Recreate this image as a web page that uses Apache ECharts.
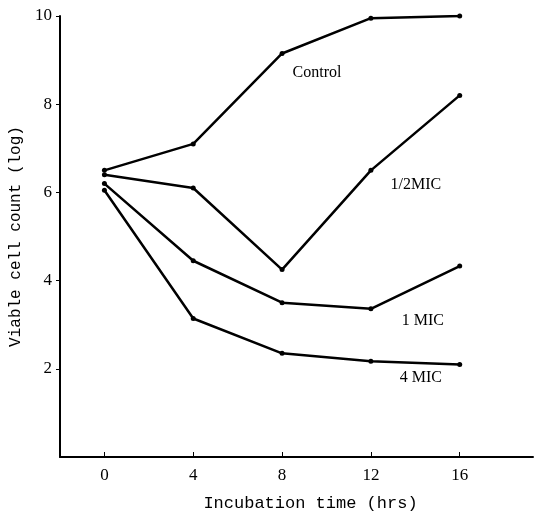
<!DOCTYPE html>
<html>
<head>
<meta charset="utf-8">
<script src="https://cdn.jsdelivr.net/npm/echarts@6/dist/echarts.min.js"></script>
<style>
  html, body { margin: 0; padding: 0; background: #fff; }
  #chart { width: 542px; height: 517px; }
</style>
</head>
<body>
<div id="chart"></div>
<script>
const hours = [0, 4, 8, 12, 16]
const xTicks = [0, 4, 8, 12, 16]
const yTicks = [2, 4, 6, 8, 10]

const control = [6.5, 7.1, 9.15, 9.95, 10.0]
const halfMic = [6.4, 6.1, 4.25, 6.5, 8.2]
const oneMic = [6.2, 4.45, 3.5, 3.36, 4.33]
const fourMic = [6.05, 3.14, 2.35, 2.17, 2.1]

const names = ['Control', '1/2MIC', '1 MIC', '4 MIC']
const labelAt = [2, 3, 3, 3] // index of point that carries the curve label
const labelOffset = [[35, 19], [45, 14], [52, 12], [50, 16]]

const serif = 'Liberation Serif'
const mono = 'Liberation Mono'

const makeSeries = (vals, k) => ({
  type: 'line',
  name: names[k],
  symbol: 'circle',
  symbolSize: 5,
  lineStyle: { color: '#000', width: 2.5 },
  itemStyle: { color: '#000' },
  data: vals.map((v, i) => {
    if (i !== labelAt[k]) return [hours[i], v]
    return {
      value: [hours[i], v],
      label: {
        show: true,
        position: 'inside',
        formatter: names[k],
        offset: labelOffset[k],
        color: '#000',
        fontFamily: serif,
        fontSize: 16
      }
    }
  })
})

const chart = echarts.init(document.getElementById('chart'))
chart.setOption({
  animation: false,
  grid: { left: 60, right: 9, top: 16, bottom: 55 },
  xAxis: {
    type: 'value',
    min: -2,
    max: 19.3,
    splitLine: { show: false },
    axisLine: { show: true, onZero: false, lineStyle: { color: '#000', width: 2 } },
    axisTick: { show: true, inside: true, length: 5, customValues: xTicks, lineStyle: { color: '#000' } },
    axisLabel: { customValues: xTicks, color: '#000', fontFamily: serif, fontSize: 17, margin: 10 },
    name: 'Incubation time (hrs)',
    nameLocation: 'middle',
    nameGap: 38,
    nameTextStyle: { color: '#000', fontFamily: mono, fontSize: 17, padding: [0, 0, 0, 28] }
  },
  yAxis: {
    type: 'value',
    min: 0,
    max: 10,
    splitLine: { show: false },
    axisLine: { show: true, onZero: false, lineStyle: { color: '#000', width: 2 } },
    axisTick: { show: true, length: 4, customValues: yTicks, lineStyle: { color: '#000' } },
    axisLabel: { customValues: yTicks, color: '#000', fontFamily: serif, fontSize: 17, margin: 8 },
    name: 'Viable cell count (log)',
    nameLocation: 'middle',
    nameGap: 32,
    nameTextStyle: { color: '#000', fontFamily: mono, fontSize: 16 }
  },
  series: [control, halfMic, oneMic, fourMic].map(makeSeries)
})
</script>
</body>
</html>
